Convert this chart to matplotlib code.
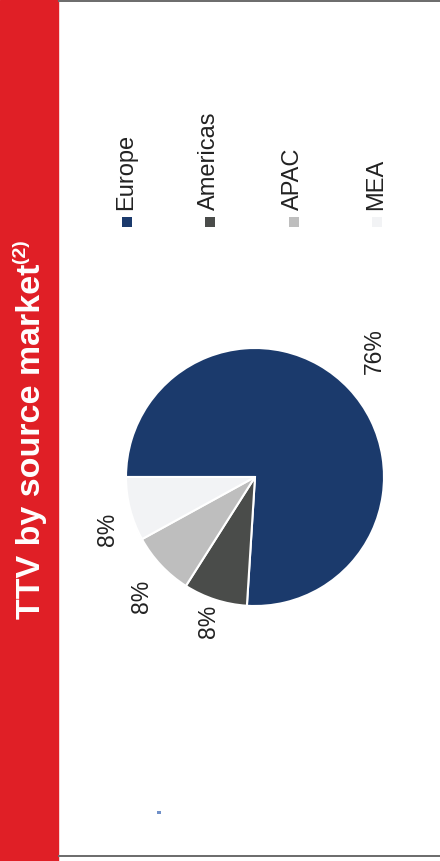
import matplotlib
matplotlib.use("Agg")
import matplotlib.pyplot as plt
from matplotlib.patches import Rectangle

plt.rcParams['font.family'] = ['Liberation Sans', 'DejaVu Sans']

# data
markets = ['Europe', 'Americas', 'APAC', 'MEA']
shares = [76, 8, 8, 8]
colors = ['#1B3A6C', '#4A4C4A', '#BEBEBE', '#F2F3F5']
title = 'TTV by source market'
title_note = '(2)'

# small nudges of the % labels (px), the slide places them a bit off-radial
label_nudge = [(0, 14), (4, 11), (6, -7), (11, -12)]

W, H = 440, 861
fig = plt.figure(figsize=(W / 100, H / 100), dpi=100)
ax = fig.add_axes([0, 0, 1, 1])

# the whole slide is turned on its side, so work in pixel units (y up)
wedges, texts, pcts = ax.pie(
    shares, colors=colors, startangle=180, counterclock=False,
    center=(255, H - 477), radius=129,
    wedgeprops=dict(edgecolor='white', linewidth=1.5),
    autopct='%d%%', pctdistance=1.27,
    textprops=dict(rotation=90, fontsize=16.5, color='#222222'))
for t, (dx, dy) in zip(pcts, label_nudge):
    x, y = t.get_position()
    t.set_position((x + dx, y + dy))
ax.set_xlim(0, W)
ax.set_ylim(0, H)
ax.set_aspect('auto')
ax.axis('off')

# red side band with title
ax.add_patch(Rectangle((0, 0), 58, H, color='#E01F26', zorder=0))
tt = ax.text(32, H - 619, title, rotation=90, ha='center', va='bottom',
             fontsize=24.5, fontweight='bold', color='white')
bb = tt.get_window_extent(renderer=fig.canvas.get_renderer())
ax.text(20, bb.y1 + 1, title_note, rotation=90, ha='center', va='bottom',
        fontsize=14, fontweight='bold', color='white')

# grey rules top and bottom
ax.add_patch(Rectangle((58, H - 2), W - 58, 2, color='#6E6E6E', lw=0))
ax.add_patch(Rectangle((58, H - 857), W - 58, 2, color='#6E6E6E', lw=0))

# legend, laid out sideways
for i, (name, c) in enumerate(zip(markets, colors)):
    x = 127 + i * 83.3
    ax.add_patch(Rectangle((x - 5, H - 227), 10, 10, color=c, lw=0))
    ax.text(x - 1, H - 210, name, rotation=90, ha='center', va='bottom',
            fontsize=17, color='#222222')

# stray marker at the bottom
ax.add_patch(Rectangle((157, H - 814), 3.5, 3.5, color='#7090C8', lw=0))

fig.savefig('out.png', dpi=100)
